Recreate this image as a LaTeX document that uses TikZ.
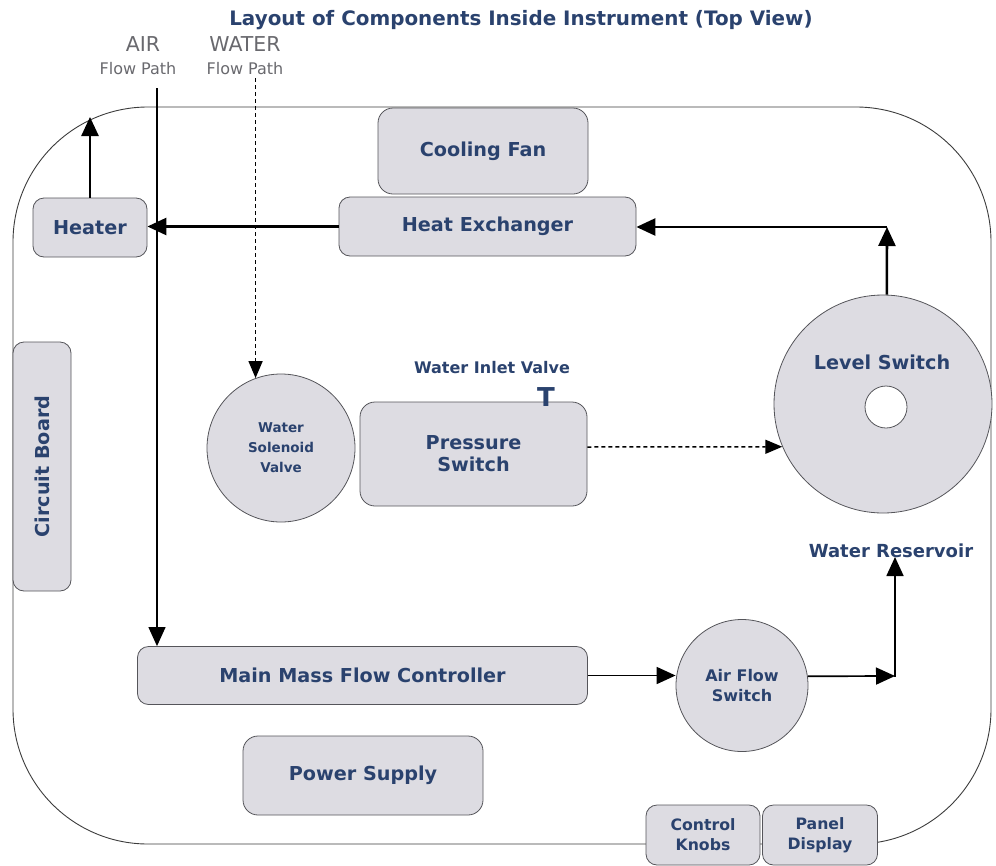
\documentclass[tikz,border=0pt]{standalone}
\usepackage{fontspec}
\setmainfont{DejaVu Sans}
\usetikzlibrary{arrows.meta}
\definecolor{boxfill}{RGB}{221,220,226}
\definecolor{boxline}{RGB}{85,85,90}
\definecolor{lbl}{RGB}{42,66,110}
\definecolor{grtxt}{RGB}{105,105,110}
\definecolor{frame}{RGB}{60,60,60}
\newcommand{\fs}[2]{\fontsize{#1}{#2}\selectfont}
\begin{document}
\begin{tikzpicture}[x=1pt,y=-1pt,
  comp/.style={draw=boxline, fill=boxfill, line width=0.8pt, text=lbl, align=center, inner sep=0pt, font=\bfseries\fs{19.2}{22}},
  rbox/.style={comp, rectangle, rounded corners=11pt},
  cbox/.style={comp, circle},
  tip/.style={-{Triangle[length=19pt,width=17pt]}},
  thickline/.style={line width=2.6pt, tip},
  medline/.style={line width=1.7pt, tip},
  thinline/.style={line width=1.2pt, tip},
  dashline/.style={line width=1.5pt, dash pattern=on 4pt off 3pt, -{Triangle[length=17pt,width=14pt]}},
  lab/.style={text=lbl, font=\bfseries\fs{19.2}{22}, inner sep=0pt, align=center},
  glab/.style={text=grtxt, inner sep=0pt, align=center}
]
\useasboundingbox (0,0) rectangle (996,865);

% outer frame
\draw[frame, line width=0.9pt, rounded corners=135pt] (13,107) rectangle (991,844);

% title and flow path labels
\node[lab, font=\bfseries\fs{19.9}{22}] (title) at (521,20) {Layout of Components Inside Instrument (Top View)};
\node[glab, font=\fs{20.5}{22}] (air) at (143,44) {AIR};
\node[glab, font=\fs{20.5}{22}] (water) at (245,44) {WATER};
\node[glab, font=\fs{16}{18}] (airfp) at (138,69) {Flow Path};
\node[glab, font=\fs{16}{18}] (waterfp) at (245,69) {Flow Path};

% components
\node[rbox, rounded corners=15pt, minimum width=210, minimum height=86] (fan) at (483,151) {Cooling Fan};
\node[rbox, minimum width=297, minimum height=59] (hx) at (487.5,226.5) {Heat Exchanger};
\node[rbox, minimum width=114, minimum height=59] (heater) at (90,227.5) {Heater};
\node[rbox, rotate=90, minimum width=249, minimum height=58] (circuit) at (42,466.5) {Circuit Board};
\node[cbox, minimum size=148, font=\bfseries\fs{13.5}{20}] (solenoid) at (281,448) {Water\\Solenoid\\Valve};
\node[rbox, rounded corners=15pt, minimum width=227, minimum height=104] (pressure) at (473.5,454) {Pressure\\Switch};
\node[lab, font=\bfseries\fs{16}{18}] (inlet) at (492,368) {Water Inlet Valve};
\node[lab, font=\bfseries\fs{26}{28}] (tv) at (546,397) {T};
\node[cbox, minimum size=218] (level) at (883,404) {};
\node[lab] (leveltxt) at (882,362) {Level Switch};
\node[draw=boxline, fill=white, circle, line width=0.8pt, minimum size=42, inner sep=0pt] (hole) at (886,407) {};
\node[lab, font=\bfseries\fs{18}{22}] (reservoir) at (891,551) {Water Reservoir};
\node[rbox, minimum width=450, minimum height=58] (mmfc) at (362.5,675.5) {Main Mass Flow Controller};
\node[rbox, rounded corners=15pt, minimum width=240, minimum height=79] (power) at (363,775.5) {Power Supply};
\node[cbox, minimum size=132, font=\bfseries\fs{16}{20}] (afs) at (742,685.5) {Air Flow\\Switch};
\node[rbox, minimum width=114, minimum height=60, font=\bfseries\fs{15.7}{20}] (knobs) at (703,835) {Control\\Knobs};
\node[rbox, minimum width=115, minimum height=60, font=\bfseries\fs{15.7}{20}] (panel) at (820,835) {Panel\\Display};

% coordinates for free ends and corners
\coordinate (airtop) at (157,88);
\coordinate (watertop) at (255,78);
\coordinate (heatup) at (90,117);
\coordinate (lvcorner) at (887,227);
\coordinate (afcorner) at (895,676);
\coordinate (restip) at (895,557);

% connectors
\draw[thinline] (airtop) -- (airtop |- mmfc.north);
\draw[dashline] (solenoid.110 |- watertop) -- (solenoid.110);
\draw[thickline] (heater.north) -- (heatup);
\draw[thickline] (hx.west) -- (hx.west -| heater.east);
\draw[thickline] (level.88) -- (lvcorner);
\draw[thickline] (lvcorner) -- (lvcorner -| hx.east);
\draw[dashline] ([yshift=7pt]pressure.east) -- (level.203);
\draw[medline] (mmfc.east) -- (mmfc.east -| afs.west);
\draw[medline] (afs.8) -- (afcorner);
\draw[medline, shorten <=-0.85pt] (afcorner) -- (restip);
\end{tikzpicture}
\end{document}
